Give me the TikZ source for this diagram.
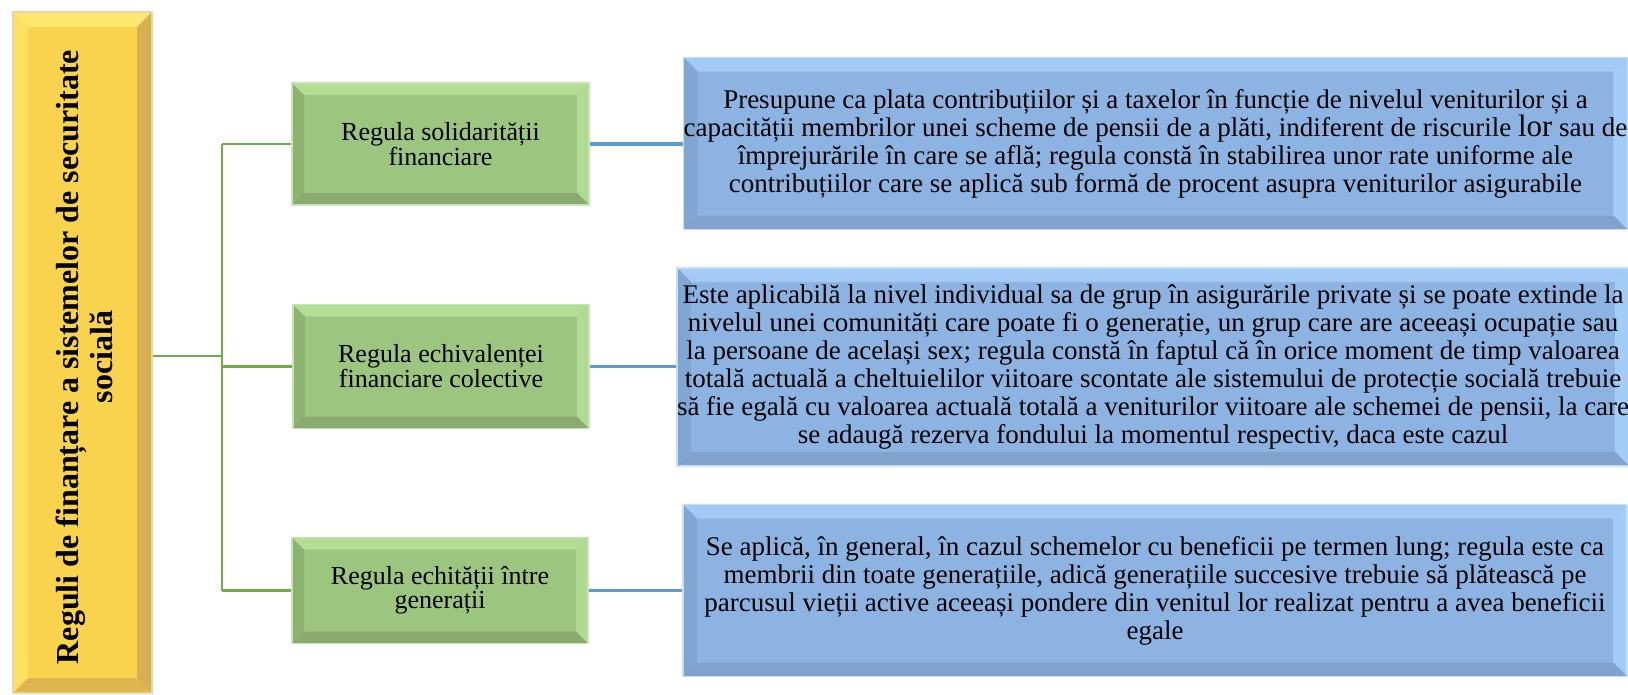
\documentclass[tikz,border=0pt]{standalone}
\usepackage{fontspec}
\setmainfont{Liberation Serif}
\definecolor{ylface}{HTML}{F9D24E}
\definecolor{yltop}{HTML}{FFE870}
\definecolor{ylleft}{HTML}{FCE062}
\definecolor{ylright}{HTML}{D6B04F}
\definecolor{ylbot}{HTML}{DDB650}
\definecolor{ylborder}{HTML}{E2D7A6}
\definecolor{grface}{HTML}{9CC57F}
\definecolor{grtop}{HTML}{B3DE94}
\definecolor{grleft}{HTML}{8DB371}
\definecolor{grright}{HTML}{B0DA93}
\definecolor{grbot}{HTML}{8AAB6F}
\definecolor{grborder}{HTML}{C9E4B4}
\definecolor{blface}{HTML}{8DB3E2}
\definecolor{bltop}{HTML}{A2CAF4}
\definecolor{blleft}{HTML}{82A6D3}
\definecolor{blright}{HTML}{A3CCF6}
\definecolor{blbot}{HTML}{80A2CC}
\definecolor{blborder}{HTML}{C3E0FA}
\definecolor{gline}{HTML}{70AD47}
\definecolor{bline}{HTML}{5B9BD5}
\tikzset{
  bevel/.style n args={5}{path picture={
    \fill[#2] (path picture bounding box.north west) -- (path picture bounding box.north east)
      -- ([xshift=-#1,yshift=-#1]path picture bounding box.north east)
      -- ([xshift=#1,yshift=-#1]path picture bounding box.north west) -- cycle;
    \fill[#3] (path picture bounding box.north west) -- ([xshift=#1,yshift=-#1]path picture bounding box.north west)
      -- ([xshift=#1,yshift=#1]path picture bounding box.south west)
      -- (path picture bounding box.south west) -- cycle;
    \fill[#4] (path picture bounding box.north east) -- ([xshift=-#1,yshift=-#1]path picture bounding box.north east)
      -- ([xshift=-#1,yshift=#1]path picture bounding box.south east)
      -- (path picture bounding box.south east) -- cycle;
    \fill[#5] (path picture bounding box.south west) -- ([xshift=#1,yshift=#1]path picture bounding box.south west)
      -- ([xshift=-#1,yshift=#1]path picture bounding box.south east)
      -- (path picture bounding box.south east) -- cycle;
  }},
  yellowbox/.style={draw=ylborder, line width=1.2pt, fill=ylface, inner sep=0pt,
    bevel={15pt}{yltop}{ylleft}{ylright}{ylbot}},
  greenbox/.style={draw=grborder, line width=1.2pt, fill=grface, inner sep=0pt, align=center,
    bevel={12pt}{grtop}{grleft}{grright}{grbot}, font=\fontsize{26}{22}\selectfont},
  bluebox/.style={draw=blborder, line width=1.2pt, fill=blface, inner sep=0pt, align=center,
    bevel={14pt}{bltop}{blleft}{blright}{blbot}, font=\fontsize{27}{28}\selectfont},
  gconn/.style={draw=gline, line width=2.6pt},
  bconn/.style={draw=bline, line width=3.4pt},
}
\begin{document}
\begin{tikzpicture}[x=1pt,y=-1pt]
\useasboundingbox[fill=white] (0,0) rectangle (1628,694);
% yellow root
\node[yellowbox, minimum width=139pt, minimum height=681pt] (Y) at (82.5,352.5) {};
\node[rotate=90, align=center, font=\bfseries\fontsize{32}{34}\selectfont] (YT) at (84,357)
  {Reguli de finanțare a sistemelor de securitate\\socială};
% green boxes
\node[greenbox, minimum width=297pt, minimum height=122pt] (G1) at (440.5,144)
  {Regula solidarității\\financiare};
\node[greenbox, minimum width=296pt, minimum height=124pt] (G2) at (441,366.5)
  {Regula echivalenței\\financiare colective};
\node[greenbox, minimum width=296pt, minimum height=106pt] (G3) at (440,590.5)
  {Regula echității între\\generații};
% blue boxes
\node[bluebox, minimum width=941pt, minimum height=172pt] (B1) at (1155.5,143.5)
  {Presupune ca plata contribuțiilor și a taxelor în funcție de nivelul veniturilor și a\\
   capacității membrilor unei scheme de pensii de a plăti, indiferent de riscurile {\fontsize{31}{28}\selectfont lor} sau de\\
   împrejurările în care se află; regula constă în stabilirea unor rate uniforme ale\\
   contribuțiilor care se aplică sub formă de procent asupra veniturilor asigurabile};
\node[bluebox, minimum width=944pt, minimum height=198pt] (B2) at (1153,367)
  {Este aplicabilă la nivel individual sa de grup în asigurările private și se poate extinde la\\
   nivelul unei comunități care poate fi o generație, un grup care are aceeași ocupație sau\\
   la persoane de același sex; regula constă în faptul că în orice moment de timp valoarea\\
   totală actuală a cheltuielilor viitoare scontate ale sistemului de protecție socială trebuie\\
   să fie egală cu valoarea actuală totală a veniturilor viitoare ale schemei de pensii, la care\\
   se adaugă rezerva fondului la momentul respectiv, daca este cazul};
\node[bluebox, minimum width=944pt, minimum height=172pt] (B3) at (1155,590.5)
  {Se aplică, în general, în cazul schemelor cu beneficii pe termen lung; regula este ca\\
   membrii din toate generațiile, adică generațiile succesive trebuie să plătească pe\\
   parcusul vieții active aceeași pondere din venitul lor realizat pentru a avea beneficii\\
   egale};
% connectors
\coordinate (J) at (222,356);
\draw[gconn] (Y.east |- J) -- (J);
\draw[gconn] (J |- G1.west) -- (J |- G3.west);
\draw[gconn] (J |- G1.west) -- (G1.west);
\draw[gconn] (J |- G2.west) -- (G2.west);
\draw[gconn] (J |- G3.west) -- (G3.west);
\draw[bconn] (G1.east) -- (B1.west |- G1.east);
\draw[bconn] (G2.east) -- (B2.west |- G2.east);
\draw[bconn] (G3.east) -- (B3.west |- G3.east);
\end{tikzpicture}
\end{document}
